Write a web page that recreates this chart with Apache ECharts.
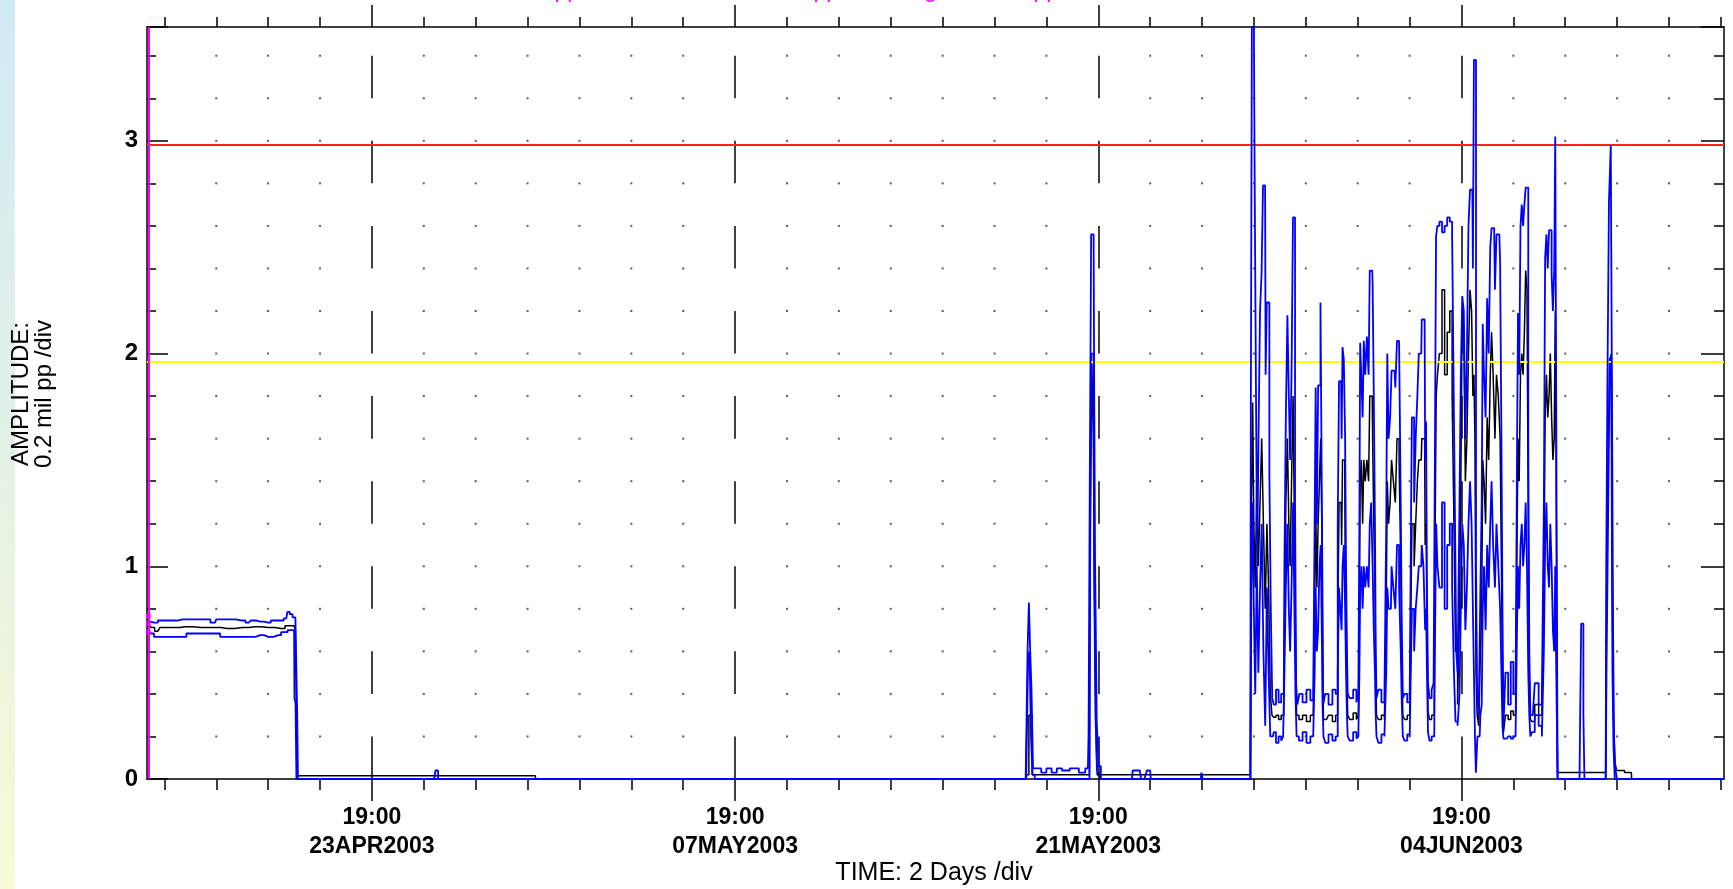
<!DOCTYPE html>
<html>
<head>
<meta charset="utf-8">
<title>Amplitude trend</title>
<script src="https://cdn.jsdelivr.net/npm/echarts@6/dist/echarts.min.js"></script>
<style>
  html, body { margin: 0; padding: 0; background: #fff; }
  #strip { position: absolute; left: 0; top: 0; width: 15px; height: 889px; background: linear-gradient(#d2eaf6, #f6fad6); }
  #main { position: absolute; left: 0; top: 0; width: 1733px; height: 889px; }
</style>
</head>
<body>
<div id="strip"></div>
<div id="main"></div>
<script>
// x values are days relative to 19:00 23APR2003
const xMin = -8.67;
const xMax = 52.12;
const yMax = 3.535;

const majorDays = [0, 14, 28, 42];
const majorLabels = ['19:00\n23APR2003', '19:00\n07MAY2003', '19:00\n21MAY2003', '19:00\n04JUN2003'];
const minorDays = [-8, -6, -4, -2, 0, 2, 4, 6, 8, 10, 12, 14, 16, 18, 20, 22, 24, 26, 28, 30,
  32, 34, 36, 38, 40, 42, 44, 46, 48, 50, 52];
const gridLevels = [0.2, 0.4, 0.6, 0.8, 1.0, 1.2, 1.4, 1.6, 1.8, 2.0, 2.2, 2.4, 2.6, 2.8, 3.0, 3.2, 3.4];

const alertLevel = 1.964;
const dangerLevel = 2.979;
const cursorDay = -8.62;
const cursorVals = [0.766, 0.731, 0.69];

// max (upper blue)
const maxTrace = [
  [-8.67, 0.74], [-8.4, 0.735], [-8.1, 0.745], [-7.7, 0.745], [-7.3, 0.75], [-6.9, 0.75], [-6.4, 0.75],
  [-6.05, 0.735], [-5.95, 0.75], [-5.5, 0.75], [-5.0, 0.745], [-4.75, 0.735], [-4.6, 0.745], [-4.3, 0.74],
  [-4.0, 0.735], [-3.8, 0.745], [-3.5, 0.745], [-3.3, 0.755], [-3.22, 0.786], [-3.12, 0.775], [-3.0, 0.76],
  [-2.9, 0.76], [-2.86, 0.3], [-2.84, 0],
  [2.4, 0], [2.5, 0.04], [2.6, 0],
  [25.2, 0], [25.25, 0.2], [25.3, 0.61], [25.35, 0.83], [25.4, 0.6], [25.45, 0.42], [25.52, 0.05],
  [25.7, 0.05], [25.9, 0.03], [26.1, 0.05], [26.3, 0.03], [26.5, 0.05], [26.7, 0.04], [27.1, 0.05],
  [27.4, 0.03], [27.6, 0.05], [27.65, 0.21], [27.7, 1.48], [27.75, 2.56], [27.82, 2.56], [27.85, 2.04],
  [27.9, 1.04], [27.98, 0.27], [28.05, 0.06], [28.15, 0], [29.3, 0], [29.35, 0.04], [29.6, 0.04],
  [29.7, 0], [29.85, 0], [29.9, 0.04], [30.0, 0.04], [30.05, 0], [31.95, 0], [32.0, 0.03], [32.05, 0],
  [33.86, 0], [33.9, 1.7], [33.94, 3.535], [34.0, 3.535], [34.02, 3.22], [34.06, 2.58], [34.1, 1.8],
  [34.15, 1.0], [34.2, 1.6], [34.27, 2.2], [34.32, 2.38], [34.38, 2.79], [34.43, 2.79], [34.47, 1.9],
  [34.52, 2.24], [34.57, 2.24], [34.62, 1.43], [34.68, 0.8], [34.73, 0.38],
  [34.8, 0.35], [34.9, 0.42], [35.0, 0.36], [35.1, 0.4],
  [35.15, 0.4], [35.2, 1.0], [35.26, 1.7], [35.32, 2.18], [35.37, 1.8], [35.42, 1.5], [35.48, 1.9],
  [35.53, 2.64], [35.57, 2.64], [35.6, 1.3], [35.65, 0.45], [35.7, 0.35],
  [35.8, 0.4], [35.95, 0.36], [36.1, 0.42], [36.25, 0.37],
  [36.32, 0.4], [36.36, 1.2], [36.4, 1.84], [36.45, 1.2], [36.5, 1.85], [36.55, 1.85], [36.58, 2.24],
  [36.62, 2.24], [36.65, 1.0], [36.69, 0.35],
  [36.8, 0.4], [36.95, 0.35], [37.1, 0.42],
  [37.2, 0.4], [37.26, 1.2], [37.3, 1.87], [37.36, 1.87], [37.4, 1.6], [37.43, 2.03], [37.5, 1.97],
  [37.53, 1.6], [37.57, 1.0], [37.6, 0.6], [37.63, 0.4],
  [37.75, 0.38], [37.9, 0.42], [38.0, 0.36],
  [38.05, 0.4], [38.08, 1.2], [38.11, 2.05], [38.17, 2.05], [38.21, 1.7], [38.26, 2.06], [38.32, 1.9],
  [38.39, 2.08], [38.45, 1.9], [38.48, 2.39], [38.56, 2.39], [38.59, 2.33], [38.65, 1.81], [38.68, 1.2],
  [38.71, 0.6], [38.74, 0.38],
  [38.85, 0.42], [38.98, 0.36],
  [39.08, 0.38], [39.12, 1.2], [39.16, 2.0], [39.22, 1.6], [39.28, 1.7], [39.33, 1.92], [39.42, 1.92],
  [39.48, 1.84], [39.55, 2.06], [39.64, 2.06], [39.68, 1.27], [39.72, 0.7], [39.76, 0.38],
  [39.85, 0.4], [39.97, 0.36],
  [40.04, 0.4], [40.08, 1.3], [40.1, 1.7], [40.15, 1.7], [40.2, 1.3], [40.27, 1.6], [40.33, 1.8],
  [40.38, 2.0], [40.45, 2.0], [40.49, 2.16], [40.58, 2.16], [40.62, 1.5], [40.65, 1.68], [40.69, 0.9],
  [40.73, 0.45], [40.8, 0.38], [40.9, 0.42],
  [40.95, 0.45], [41.0, 1.5], [41.04, 2.55], [41.1, 2.6], [41.2, 2.62], [41.3, 2.57], [41.4, 2.6],
  [41.5, 2.64], [41.6, 2.62], [41.68, 2.55], [41.74, 1.7], [41.78, 1.1], [41.82, 0.6], [41.88, 0.5],
  [41.95, 1.2], [42.0, 1.9], [42.06, 2.27], [42.12, 2.2], [42.18, 1.6], [42.24, 2.0], [42.3, 2.6],
  [42.36, 2.77], [42.42, 2.77], [42.46, 2.4], [42.5, 3.38], [42.54, 3.38], [42.58, 1.0], [42.63, 0.4],
  [42.7, 0.3], [42.76, 0.9],
  [42.8, 1.3], [42.84, 2.14], [42.9, 1.9], [42.96, 1.7], [43.02, 2.26], [43.08, 2.0], [43.14, 2.5],
  [43.18, 2.59], [43.26, 2.59], [43.32, 2.3], [43.38, 2.56], [43.46, 2.56], [43.52, 2.42], [43.56, 1.6],
  [43.6, 0.8], [43.64, 0.25],
  [43.75, 0.5], [43.85, 0.35], [43.95, 0.55], [44.05, 0.4],
  [44.12, 0.4], [44.16, 1.5], [44.2, 2.19], [44.25, 1.9], [44.3, 2.6], [44.35, 2.7], [44.4, 2.6],
  [44.45, 2.7], [44.5, 2.78], [44.55, 2.78], [44.6, 1.6], [44.63, 0.6], [44.68, 0.3],
  [44.75, 0.3], [44.9, 0.45], [45.05, 0.35],
  [45.15, 0.4], [45.2, 1.27], [45.25, 2.45], [45.3, 2.56], [45.35, 2.4], [45.4, 2.58], [45.45, 2.58],
  [45.5, 2.37], [45.55, 2.2], [45.6, 2.4], [45.63, 3.02], [45.66, 3.02], [45.69, 1.0], [45.72, 0],
  [46.55, 0], [46.6, 0.3], [46.63, 0.73], [46.68, 0.73], [46.72, 0.3], [46.76, 0],
  [47.56, 0], [47.6, 1.0], [47.65, 1.84], [47.72, 2.71], [47.79, 2.98], [47.83, 2.98], [47.86, 0.69],
  [47.9, 0.2], [47.96, 0.05], [48.02, 0],
  [52.12, 0]
];

// average (black)
const avgTrace = [
  [-8.67, 0.72], [-8.5, 0.712], [-8.25, 0.695], [-8.1, 0.712], [-7.6, 0.712], [-7.2, 0.716], [-6.6, 0.712],
  [-6.0, 0.712], [-5.6, 0.708], [-5.0, 0.712], [-4.5, 0.716], [-4.0, 0.712], [-3.5, 0.708], [-3.2, 0.72],
  [-3.0, 0.72], [-2.9, 0.7], [-2.86, 0.015],
  [6.3, 0.015], [6.32, 0],
  [25.22, 0], [25.25, 0.02], [25.4, 0.3], [25.5, 0.02], [27.66, 0.02], [27.72, 1.2], [27.78, 1.95],
  [27.84, 1.6], [27.9, 0.6], [27.98, 0.05], [28.05, 0.02], [33.86, 0.02],
  [33.93, 1.2], [33.97, 1.77], [34.02, 1.2], [34.08, 0.9], [34.14, 1.4], [34.2, 1.0], [34.27, 1.3],
  [34.33, 1.6], [34.4, 1.2], [34.47, 0.8], [34.53, 1.2], [34.6, 0.9], [34.66, 0.4], [34.73, 0.3],
  [34.8, 0.29], [34.9, 0.3], [35.0, 0.28], [35.1, 0.3],
  [35.15, 0.3], [35.2, 0.7], [35.26, 1.3], [35.32, 1.6], [35.37, 1.2], [35.42, 1.0], [35.48, 1.4],
  [35.54, 1.8], [35.58, 1.2], [35.62, 0.7], [35.67, 0.3],
  [35.8, 0.28], [35.95, 0.3], [36.1, 0.27], [36.25, 0.3],
  [36.32, 0.3], [36.36, 0.8], [36.4, 1.3], [36.45, 0.9], [36.5, 1.2], [36.55, 1.4], [36.6, 1.6],
  [36.63, 1.2], [36.66, 0.6], [36.7, 0.28],
  [36.8, 0.28], [36.95, 0.3], [37.1, 0.27],
  [37.2, 0.3], [37.26, 0.7], [37.3, 1.3], [37.36, 1.3], [37.4, 1.1], [37.43, 1.5], [37.5, 1.5],
  [37.53, 1.1], [37.57, 0.8], [37.6, 0.5], [37.63, 0.3],
  [37.75, 0.28], [37.9, 0.31], [38.0, 0.28],
  [38.05, 0.3], [38.08, 0.8], [38.11, 1.4], [38.17, 1.5], [38.21, 1.2], [38.26, 1.5], [38.32, 1.4],
  [38.39, 1.5], [38.45, 1.4], [38.48, 1.8], [38.56, 1.8], [38.59, 1.6], [38.65, 1.2], [38.68, 0.9],
  [38.71, 0.5], [38.74, 0.3],
  [38.85, 0.28], [38.98, 0.3],
  [39.08, 0.28], [39.12, 0.8], [39.16, 1.4], [39.22, 1.2], [39.28, 1.3], [39.33, 1.5], [39.42, 1.4],
  [39.48, 1.3], [39.55, 1.6], [39.64, 1.5], [39.68, 1.0], [39.72, 0.55], [39.76, 0.3],
  [39.85, 0.28], [39.97, 0.3],
  [40.04, 0.3], [40.08, 0.9], [40.1, 1.2], [40.15, 1.2], [40.2, 1.0], [40.27, 1.2], [40.33, 1.4],
  [40.38, 1.5], [40.45, 1.5], [40.49, 1.6], [40.58, 1.6], [40.62, 1.1], [40.65, 1.2], [40.69, 0.7],
  [40.73, 0.32], [40.8, 0.28], [40.9, 0.3],
  [40.95, 0.3], [41.0, 1.0], [41.05, 1.8], [41.1, 1.9], [41.2, 2.0], [41.3, 2.3], [41.4, 1.9],
  [41.5, 2.1], [41.6, 2.2], [41.68, 1.8], [41.74, 1.2], [41.8, 0.6], [41.9, 0.35],
  [41.95, 0.8], [42.0, 1.4], [42.06, 2.2], [42.12, 2.1], [42.18, 1.4], [42.24, 1.6], [42.3, 2.0],
  [42.36, 2.3], [42.42, 2.2], [42.46, 1.8], [42.5, 1.9], [42.54, 1.6], [42.58, 0.5], [42.63, 0.3],
  [42.7, 0.25], [42.76, 0.6],
  [42.8, 0.8], [42.84, 1.5], [42.9, 1.4], [42.96, 1.2], [43.02, 1.7], [43.08, 1.5], [43.14, 1.9],
  [43.18, 2.1], [43.26, 1.9], [43.32, 1.6], [43.38, 1.9], [43.46, 1.8], [43.52, 1.6], [43.56, 1.0],
  [43.6, 0.5], [43.64, 0.22],
  [43.75, 0.3], [43.85, 0.28], [43.95, 0.32], [44.05, 0.3],
  [44.12, 0.3], [44.16, 1.1], [44.2, 1.6], [44.25, 1.4], [44.3, 1.9], [44.35, 2.0], [44.4, 1.9],
  [44.45, 2.1], [44.5, 2.39], [44.55, 2.3], [44.6, 1.2], [44.63, 0.5], [44.68, 0.28],
  [44.75, 0.27], [44.9, 0.35], [45.05, 0.3],
  [45.15, 0.3], [45.2, 0.9], [45.25, 1.7], [45.3, 1.9], [45.35, 1.7], [45.4, 1.8], [45.45, 2.0],
  [45.5, 1.7], [45.55, 1.5], [45.6, 1.6], [45.63, 2.2], [45.66, 1.6], [45.69, 0.5], [45.72, 0.03],
  [47.56, 0.03], [47.62, 0.8], [47.68, 1.5], [47.75, 1.96], [47.8, 2.0], [47.84, 0.8], [47.88, 0.3],
  [47.94, 0.08], [48.02, 0.04], [48.55, 0.03], [48.57, 0],
  [52.12, 0]
];

// min (lower blue)
const minTrace = [
  [-8.67, 0.69], [-8.5, 0.684], [-8.3, 0.668], [-7.9, 0.668], [-7.3, 0.668], [-7.0, 0.684], [-6.5, 0.684],
  [-6.0, 0.684], [-5.7, 0.668], [-5.0, 0.668], [-4.7, 0.668], [-4.3, 0.676], [-4.0, 0.668], [-3.6, 0.676],
  [-3.4, 0.69], [-3.1, 0.7], [-3.0, 0.7], [-2.97, 0.38], [-2.92, 0.36], [-2.9, 0],
  [25.22, 0], [25.27, 0.2], [25.32, 0.58], [25.38, 0.6], [25.43, 0.2], [25.5, 0.02], [25.6, 0],
  [27.66, 0], [27.7, 0.9], [27.76, 2.0], [27.82, 2.0], [27.86, 1.0], [27.92, 0.3], [28.0, 0.02], [28.1, 0],
  [33.87, 0], [33.93, 0.9], [33.97, 1.3], [34.02, 0.8], [34.08, 0.4], [34.14, 1.0], [34.2, 0.5],
  [34.27, 0.9], [34.33, 1.2], [34.4, 0.6], [34.47, 0.25], [34.53, 0.9], [34.6, 0.5], [34.66, 0.2],
  [34.73, 0.2],
  [34.8, 0.22], [34.9, 0.17], [35.0, 0.2], [35.1, 0.18],
  [35.15, 0.2], [35.2, 0.5], [35.26, 0.9], [35.32, 1.2], [35.37, 0.8], [35.42, 0.6], [35.48, 0.9],
  [35.54, 1.3], [35.58, 0.8], [35.62, 0.4], [35.67, 0.2],
  [35.8, 0.18], [35.95, 0.22], [36.1, 0.17], [36.25, 0.2],
  [36.32, 0.2], [36.36, 0.5], [36.4, 0.9], [36.45, 0.6], [36.5, 0.7], [36.55, 1.0], [36.6, 1.1],
  [36.63, 0.7], [36.66, 0.35], [36.7, 0.2],
  [36.8, 0.17], [36.95, 0.21], [37.1, 0.18],
  [37.2, 0.2], [37.26, 0.5], [37.3, 0.9], [37.36, 0.8], [37.4, 0.7], [37.43, 1.0], [37.5, 1.1],
  [37.53, 0.8], [37.57, 0.5], [37.6, 0.3], [37.63, 0.2],
  [37.75, 0.18], [37.9, 0.22], [38.0, 0.19],
  [38.05, 0.2], [38.08, 0.5], [38.11, 0.9], [38.17, 1.0], [38.21, 0.8], [38.26, 1.0], [38.32, 0.9],
  [38.39, 1.0], [38.45, 0.9], [38.48, 1.2], [38.56, 1.3], [38.59, 1.0], [38.65, 0.7], [38.68, 0.5],
  [38.71, 0.3], [38.74, 0.2],
  [38.85, 0.17], [38.98, 0.21],
  [39.08, 0.2], [39.12, 0.5], [39.16, 0.9], [39.22, 0.8], [39.28, 0.8], [39.33, 1.0], [39.42, 0.9],
  [39.48, 0.8], [39.55, 1.1], [39.64, 0.9], [39.68, 0.6], [39.72, 0.35], [39.76, 0.2],
  [39.85, 0.18], [39.97, 0.21],
  [40.04, 0.2], [40.08, 0.6], [40.1, 0.8], [40.15, 0.8], [40.2, 0.6], [40.27, 0.8], [40.33, 0.9],
  [40.38, 1.0], [40.45, 1.0], [40.49, 1.1], [40.58, 1.0], [40.62, 0.7], [40.65, 0.8], [40.69, 0.5],
  [40.73, 0.22], [40.8, 0.18], [40.9, 0.2],
  [40.95, 0.2], [41.0, 0.6], [41.05, 1.2], [41.1, 1.0], [41.2, 0.9], [41.3, 1.3], [41.4, 0.8],
  [41.5, 1.1], [41.6, 1.2], [41.68, 0.9], [41.74, 0.5], [41.8, 0.27], [41.9, 0.25],
  [41.95, 0.4], [42.0, 0.8], [42.06, 1.2], [42.12, 1.1], [42.18, 0.7], [42.24, 0.9], [42.3, 1.2],
  [42.36, 1.4], [42.42, 1.2], [42.46, 0.8], [42.5, 0.5], [42.54, 0.2], [42.57, 0.03], [42.6, 0.03],
  [42.63, 0.2], [42.7, 0.2], [42.76, 0.3],
  [42.8, 0.35], [42.84, 0.8], [42.9, 1.0], [42.96, 0.7], [43.02, 1.1], [43.08, 0.9], [43.14, 1.2],
  [43.18, 1.4], [43.26, 1.1], [43.32, 0.9], [43.38, 1.2], [43.46, 1.0], [43.52, 0.8], [43.56, 0.5],
  [43.6, 0.25], [43.64, 0.19],
  [43.75, 0.19], [43.85, 0.2], [43.95, 0.19], [44.05, 0.2],
  [44.12, 0.2], [44.16, 0.7], [44.2, 1.0], [44.25, 0.8], [44.3, 1.1], [44.35, 1.2], [44.4, 1.0],
  [44.45, 1.1], [44.5, 1.3], [44.55, 1.0], [44.6, 0.5], [44.63, 0.3], [44.68, 0.2],
  [44.75, 0.22], [44.9, 0.3], [45.05, 0.25],
  [45.15, 0.2], [45.2, 0.6], [45.25, 1.1], [45.3, 1.3], [45.35, 1.0], [45.4, 0.9], [45.45, 1.2],
  [45.5, 1.0], [45.55, 0.7], [45.6, 0.6], [45.63, 1.0], [45.66, 0.6], [45.69, 0.3], [45.72, 0],
  [47.56, 0], [47.62, 0.5], [47.68, 1.2], [47.75, 1.98], [47.8, 1.9], [47.84, 0.5], [47.88, 0.15],
  [47.94, 0],
  [52.12, 0]
];

const font = "'Liberation Sans', Arial, sans-serif";
const chart = echarts.init(document.getElementById('main'));

// dotted grid at the 2-day ticks (not on the dashed major lines or the frame)
const dotPoints = [];
minorDays.forEach(function (d, i) {
  if (majorDays.indexOf(d) >= 0 || i === 0 || i === minorDays.length - 1) return;
  gridLevels.forEach(function (v) { dotPoints.push([d, v]); });
});

// dashed verticals at the labelled ticks: one 0.2 dash every 0.4
const dashSegments = [];
majorDays.forEach(function (d) {
  for (let k = 0; k < gridLevels.length; k += 2) {
    const y0 = k === 0 ? 0 : gridLevels[k - 1];
    dashSegments.push([{ coord: [d, y0] }, { coord: [d, gridLevels[k]] }]);
  }
});

const black = '#000';

function xAx(pos, ticks, len, showLine, labels) {
  return {
    type: 'value', position: pos, min: xMin, max: xMax,
    axisLine: { show: showLine, onZero: false, lineStyle: { color: black, width: 1.5 } },
    axisTick: { show: true, inside: false, length: len, customValues: ticks, lineStyle: { color: black, width: 1.5 } },
    axisLabel: labels ? {
      show: true, customValues: ticks, margin: 24, color: black,
      fontFamily: font, fontWeight: 'bold', fontSize: 23, lineHeight: 29,
      formatter: function (v) { return majorLabels[majorDays.indexOf(Math.round(v))] || ''; }
    } : { show: false, customValues: ticks },
    splitLine: { show: false }
  };
}

function yAx(pos, step, len, showLine, labels) {
  return {
    type: 'value', position: pos, min: 0, max: yMax, interval: step,
    axisLine: { show: showLine, onZero: false, lineStyle: { color: black, width: 1.5 } },
    axisTick: { show: true, inside: true, length: len, lineStyle: { color: black, width: 1.5 } },
    axisLabel: labels ? {
      show: true, margin: 9, color: black, fontFamily: font, fontWeight: 'bold', fontSize: 24,
      formatter: function (v) { return Math.abs(v - Math.round(v)) < 1e-6 ? String(Math.round(v)) : ''; }
    } : { show: false },
    splitLine: { show: false }
  };
}

function magentaText(x, text) {
  return {
    type: 'text', x: x, y: -9,
    style: { text: text, font: '23px ' + font, fill: '#ff00ff', align: 'right', verticalAlign: 'middle', textAlign: 'right', textVerticalAlign: 'middle' }
  };
}

function trace(name, data, color, z) {
  return {
    name: name, type: 'line', data: data, showSymbol: false, step: 'middle', z: z,
    lineStyle: { color: color, width: name === 'avg' ? 1.5 : 1.8 }
  };
}

const option = {
  animation: false,
  grid: { left: 147, right: 9, top: 27, bottom: 110 },
  xAxis: [
    xAx('bottom', minorDays, 11, true, false),
    xAx('bottom', majorDays, 22, false, true),
    xAx('top', minorDays, 10, true, false),
    xAx('top', majorDays, 22, false, false)
  ],
  yAxis: [
    yAx('left', 0.2, 9, true, true),
    yAx('left', 1, 21, false, false),
    yAx('right', 0.2, 10, true, false),
    yAx('right', 1, 23, false, false)
  ],
  graphic: [
    magentaText(580, 'Overall 0.72 mil pp'),
    magentaText(839, 'Alert 1.96 mil pp'),
    magentaText(964, 'Danger:'),
    magentaText(1059, '2.98 pp'),
    { type: 'text', x: 33, y: 394, rotation: Math.PI / 2, style: { text: 'AMPLITUDE:\n0.2 mil pp /div', font: '24px ' + font, lineHeight: 23, fill: black, align: 'center', verticalAlign: 'middle', textAlign: 'center', textVerticalAlign: 'middle' } },
    { type: 'text', x: 934, y: 873, style: { text: 'TIME: 2 Days /div', font: '25px ' + font, fill: black, align: 'center', verticalAlign: 'middle', textAlign: 'center', textVerticalAlign: 'middle' } }
  ],
  series: [
    {
      name: 'grid', type: 'scatter', data: dotPoints, symbol: 'rect', symbolSize: 2,
      itemStyle: { color: '#333' }, silent: true, z: 1,
      markLine: {
        silent: true, symbol: ['none', 'none'], label: { show: false },
        lineStyle: { color: black, width: 1.5, type: 'solid' },
        data: dashSegments
      }
    },
    {
      name: 'limits', type: 'line', data: [], silent: true, z: 2,
      markLine: {
        silent: true, symbol: ['none', 'none'], label: { show: false },
        data: [
          { yAxis: dangerLevel, lineStyle: { color: '#ff2020', width: 2, type: 'solid' } },
          { yAxis: alertLevel, lineStyle: { color: '#ffff00', width: 2, type: 'solid' } }
        ]
      }
    },
    trace('avg', avgTrace, black, 3),
    trace('min', minTrace, '#0000ff', 4),
    trace('max', maxTrace, '#0000ff', 5),
    {
      name: 'cursor', type: 'scatter', z: 6, silent: true,
      data: cursorVals.map(function (v) { return [cursorDay, v]; }),
      symbol: 'rect', symbolSize: 5, itemStyle: { color: '#ff00ff' },
      markLine: {
        silent: true, symbol: ['none', 'none'], label: { show: false },
        lineStyle: { color: '#ff00ff', width: 2, type: 'solid' },
        data: [{ xAxis: cursorDay }]
      }
    }
  ]
};

chart.setOption(option);
</script>
</body>
</html>
